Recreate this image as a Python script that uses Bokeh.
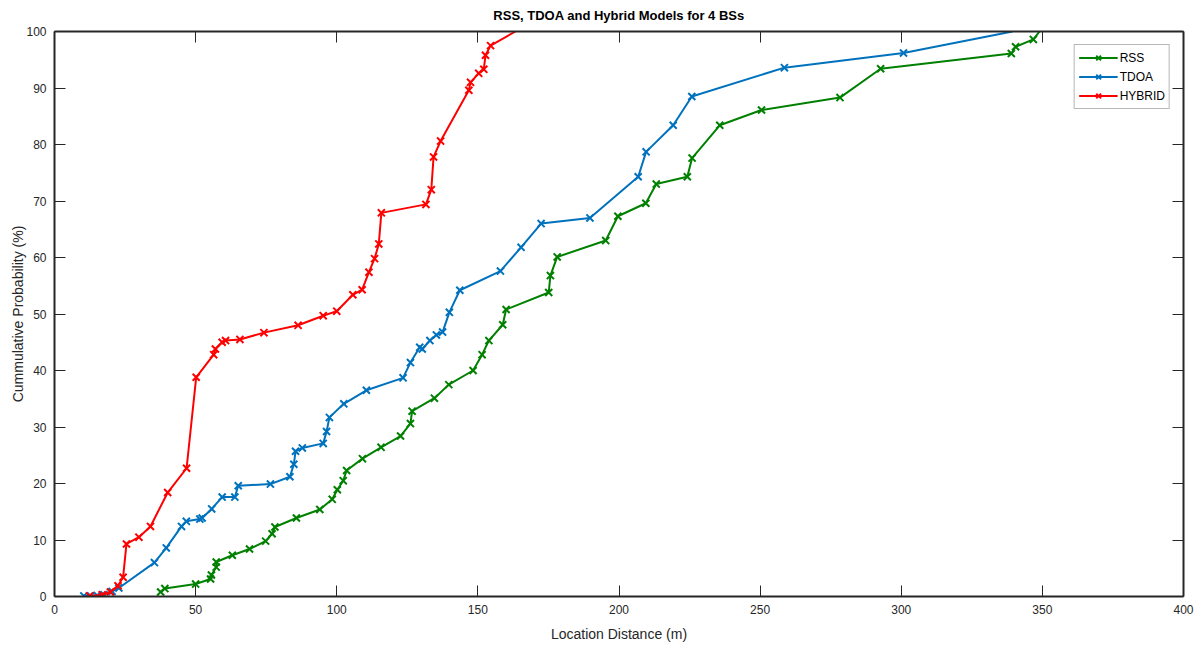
from bokeh.plotting import figure
from bokeh.models import Range1d, LinearAxis, FixedTicker, Legend, LegendItem
from bokeh.embed import file_html
from bokeh.resources import INLINE

# ---- data ----
rss_x = [37.6, 39.1, 50.0, 55.3, 55.6, 57.3, 57.3, 63.0, 69.1, 74.8, 77.1, 78.1, 85.7, 94.0,
         98.4, 100.2, 102.3, 103.5, 109.1, 115.7, 122.6, 126.1, 126.7, 134.6, 139.7, 148.3,
         151.5, 153.9, 158.8, 160.0, 175.1, 175.7, 178.1, 195.3, 199.6, 209.5, 213.2, 224.2,
         225.9, 235.7, 250.5, 278.3, 292.7, 339.0, 340.5, 346.8, 349.0]
rss_y = [0.8, 1.4, 2.2, 3.1, 3.8, 5.2, 6.1, 7.3, 8.4, 9.8, 11.1, 12.3, 13.9, 15.4,
         17.2, 18.9, 20.5, 22.3, 24.4, 26.4, 28.4, 30.6, 32.8, 35.1, 37.5, 40.0,
         42.8, 45.3, 48.1, 50.8, 53.8, 56.8, 60.1, 63.0, 67.3, 69.6, 73.0, 74.3,
         77.6, 83.4, 86.1, 88.3, 93.4, 96.1, 97.3, 98.6, 100.0]

tdoa_x = [10.4, 12.8, 15.1, 17.5, 20.4, 22.8, 35.4, 39.6, 45.0, 46.7, 51.5, 52.3, 55.7, 59.4,
          63.9, 65.1, 76.5, 83.4, 84.8, 85.4, 87.8, 95.2, 96.4, 97.4, 102.5, 110.5, 123.5,
          126.1, 129.4, 130.3, 133.0, 135.3, 137.5, 139.9, 143.6, 158.0, 165.3, 172.4, 189.7,
          206.8, 209.6, 219.2, 225.8, 258.6, 300.8, 339.4]
tdoa_y = [0.1, 0.1, 0.2, 0.3, 0.9, 1.5, 6.0, 8.6, 12.4, 13.3, 13.7, 13.9, 15.5, 17.6,
          17.6, 19.6, 19.9, 21.2, 23.4, 25.7, 26.3, 27.1, 29.2, 31.7, 34.1, 36.5, 38.7,
          41.4, 44.1, 43.8, 45.3, 46.3, 46.8, 50.3, 54.2, 57.6, 61.8, 66.0, 67.0,
          74.3, 78.7, 83.4, 88.5, 93.6, 96.2, 100.0]

hyb_x = [12.4, 16.9, 19.8, 22.5, 24.3, 25.5, 29.9, 34.0, 40.1, 46.8, 50.2, 56.4, 57.0, 59.4,
         60.6, 65.7, 74.2, 86.3, 95.2, 100.0, 105.7, 109.0, 111.4, 113.4, 114.9, 115.8,
         131.6, 133.5, 134.3, 136.8, 146.8, 147.4, 150.3, 152.1, 152.7, 154.5, 163.3]
hyb_y = [0.1, 0.3, 0.8, 1.9, 3.4, 9.3, 10.5, 12.4, 18.4, 22.7, 38.8, 42.8, 43.8, 45.0,
         45.3, 45.5, 46.7, 48.0, 49.7, 50.5, 53.4, 54.3, 57.4, 59.8, 62.4, 67.9,
         69.4, 72.0, 77.8, 80.6, 89.6, 91.0, 92.6, 93.3, 95.8, 97.5, 100.0]

x_ticks = [0, 50, 100, 150, 200, 250, 300, 350, 400]
y_ticks = [0, 10, 20, 30, 40, 50, 60, 70, 80, 90, 100]

series = [("RSS", rss_x, rss_y, "#008000"),
          ("TDOA", tdoa_x, tdoa_y, "#0072BD"),
          ("HYBRID", hyb_x, hyb_y, "#FF0000")]

FONT = "Liberation Sans"
AX = "#262626"

p = figure(width=1202, height=645, output_backend="svg", toolbar_location=None,
           x_range=Range1d(0, 400), y_range=Range1d(0, 100),
           min_border_left=54, min_border_right=19, min_border_top=31, min_border_bottom=49,
           title="RSS, TDOA and Hybrid Models for 4 BSs")
p.grid.visible = False
p.outline_line_color = None
p.background_fill_color = "white"

p.title.text_font = FONT
p.title.text_font_size = "13px"
p.title.text_font_style = "bold"
p.title.text_color = "#000000"
p.title.align = "center"
p.title.vertical_align = "top"
p.title.standoff = 13

def style_axis(ax, labels=True):
    ax.axis_line_color = AX
    ax.axis_line_width = 2
    ax.major_tick_line_color = AX
    ax.major_tick_line_width = 1
    ax.major_tick_in = 11
    ax.major_tick_out = 0
    ax.minor_tick_line_color = None
    ax.major_label_text_font = FONT
    if labels:
        ax.major_label_text_color = AX
        ax.major_label_text_font_size = "12px"
    else:
        ax.major_label_text_color = None
        ax.major_label_text_font_size = "1px"
        ax.major_label_standoff = 0

p.xaxis.ticker = FixedTicker(ticks=x_ticks)
p.yaxis.ticker = FixedTicker(ticks=y_ticks)
for ax in p.xaxis + p.yaxis:
    style_axis(ax)
    ax.axis_label_text_font = FONT
    ax.axis_label_text_font_size = "14px"
    ax.axis_label_text_font_style = "normal"
    ax.axis_label_text_color = AX
p.xaxis.major_label_standoff = 8
p.xaxis.axis_label_standoff = 9
p.yaxis.major_label_standoff = 8
p.yaxis.axis_label_standoff = -3
p.xaxis.axis_label = "Location Distance (m)"
p.yaxis.axis_label = "Cummulative Probability (%)"

top = LinearAxis(ticker=FixedTicker(ticks=x_ticks))
style_axis(top, labels=False)
p.add_layout(top, "above")
right = LinearAxis(ticker=FixedTicker(ticks=y_ticks))
style_axis(right, labels=False)
p.add_layout(right, "right")

items = []
for name, xs, ys, col in series:
    r1 = p.line(xs, ys, line_color=col, line_width=2)
    mx = [x for x, y in zip(xs, ys) if y < 100]
    my = [y for y in ys if y < 100]
    r2 = p.scatter(mx, my, marker="x", size=10, line_color=col, line_width=2)
    items.append(LegendItem(label=name, renderers=[r1, r2]))

leg = Legend(items=items, location="top_right")
leg.label_text_font = FONT
leg.label_text_font_size = "12px"
leg.label_text_color = "#000000"
leg.glyph_width = 39
leg.glyph_height = 17
leg.label_standoff = 2
leg.spacing = 2
leg.padding = 4
leg.margin = 13
leg.border_line_color = "#707070"
leg.border_line_width = 1
leg.background_fill_color = "white"
leg.background_fill_alpha = 1
p.add_layout(leg, "center")

open("out.html", "w").write(file_html(p, INLINE))
